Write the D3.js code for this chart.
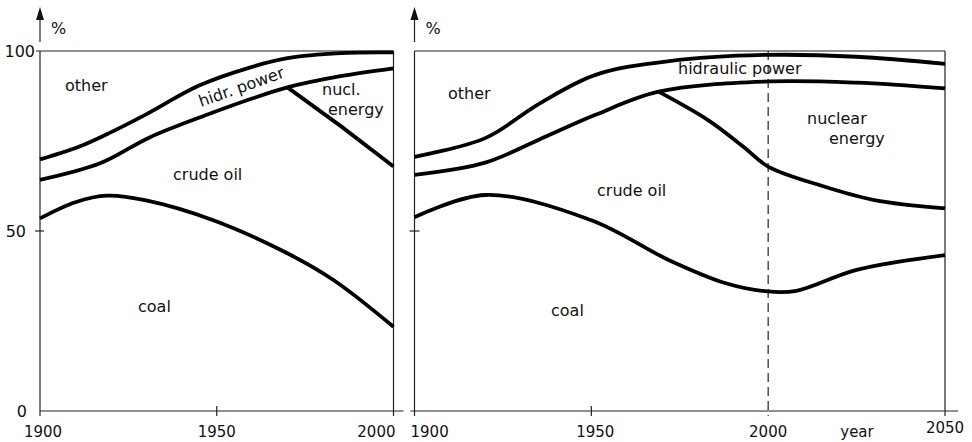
<!DOCTYPE html>
<html>
<head>
<meta charset="utf-8">
<script src="https://cdn.jsdelivr.net/npm/d3@7"></script>
<style>
  body { margin: 0; background: #fff; }
  svg text { font-family: "DejaVu Sans", sans-serif; fill: #111; }
</style>
</head>
<body>
<div id="chart"></div>
<script>
// share of energy sources, % (cumulative boundaries), [year, value]
var leftOther   = [[1900,69.9],[1911,73.4],[1920,77.4],[1930,82.4],[1945,90.4],[1960,95.6],[1970,98.0],[1985,99.4],[2000,99.6]];
var leftHydro   = [[1900,64.2],[1917,68.8],[1931,76.0],[1947,82.2],[1960,86.8],[1970,89.9],[1985,93.0],[2000,95.2]];
var leftNuclear = [[1970,89.9],[1985,79.2],[2000,67.9]];
var leftCoal    = [[1900,53.5],[1910,58.0],[1919,59.8],[1930,58.5],[1949,53.0],[1969,44.3],[1983,36.4],[2000,23.4]];

var rightOther   = [[1900,70.6],[1920,75.8],[1935,85.2],[1951,93.3],[1972,97.2],[1999,98.9],[2025,98.4],[2050,96.4]];
var rightHydro   = [[1900,65.6],[1920,69.0],[1935,75.3],[1951,82.2],[1969,88.7],[1999,91.5],[2025,91.2],[2050,89.6]];
var rightNuclear = [[1969,88.7],[1983,80.8],[1993,73.4],[2000,67.9],[2015,62.6],[2030,58.6],[2050,56.3]];
var rightCoal    = [[1900,53.8],[1920,60.0],[1950,53.0],[1972,41.9],[1988,35.5],[2000,33.2],[2008,33.4],[2025,39.2],[2050,43.3]];

var yTicks = [0, 50, 100];
var leftYearTicks = [1900, 1950, 2000];
var rightYearTicks = [1900, 1950, 2000, 2050];

var svg = d3.select("#chart").append("svg")
    .attr("width", 972)
    .attr("height", 442);

var y = d3.scaleLinear().domain([0, 100]).range([411, 51]);
var xL = d3.scaleLinear().domain([1900, 2000]).range([40, 393.5]);
var xR = d3.scaleLinear().domain([1900, 2050]).range([414.5, 945]);

var axisColor = "#222";

function vline(x, y1, y2, dash){
  svg.append("line")
    .attr("x1", x).attr("x2", x).attr("y1", y1).attr("y2", y2)
    .attr("stroke", axisColor).attr("stroke-width", 1.2)
    .attr("stroke-dasharray", dash || null);
}
function hline(y0, x1, x2){
  svg.append("line")
    .attr("x1", x1).attr("x2", x2).attr("y1", y0).attr("y2", y0)
    .attr("stroke", axisColor).attr("stroke-width", 1.2);
}
function arrow(x){
  vline(x, 42, 14);
  svg.append("path")
    .attr("d", "M" + (x - 4) + ",20 L" + x + ",7 L" + (x + 4) + ",20 Z")
    .attr("fill", "#111");
  svg.append("text").attr("x", x + 11).attr("y", 34)
    .attr("font-size", 16).text("%");
}

// ---- left panel frame
arrow(xL(1900));
vline(xL(1900), y(100), y(0) + 5);
vline(xL(2000), y(100), y(0) + 5);
hline(y(100), xL(1900) - 4, xL(2000));
hline(y(0), xL(1900), xL(2000) + 10);
hline(y(50), xL(1900) - 5, xL(1900) + 4);
vline(xL(1950), y(0) - 5, y(0) + 5);

// ---- right panel frame
arrow(xR(1900));
vline(xR(1900), y(100), y(0) + 5);
vline(xR(2050), y(100), y(0) + 5);
hline(y(100), xR(1900), xR(2050));
hline(y(0), xR(1900) - 4, xR(2050) + 13);
hline(y(50), xR(1900) - 5, xR(1900) + 5);
vline(xR(1950), y(0) - 5, y(0) + 5);
vline(xR(2000), y(100), y(0) + 5, "9,5");

// ---- y tick labels
var yLabelEnd = {0: 27, 50: 26, 100: 35};
svg.selectAll(".ylab").data(yTicks).enter().append("text")
  .attr("class", "ylab")
  .attr("x", function(d){ return yLabelEnd[d]; })
  .attr("y", function(d){ return y(d) + 6; })
  .attr("text-anchor", "end")
  .attr("font-size", 16)
  .text(function(d){ return d; });

// ---- x tick labels
svg.selectAll(".xlabL").data(leftYearTicks).enter().append("text")
  .attr("class", "xlabL")
  .attr("x", function(d, i){ return i === 2 ? xL(d) + 2 : xL(d) + (i === 0 ? 3 : 0); })
  .attr("y", 437)
  .attr("text-anchor", function(d, i){ return i === 2 ? "end" : "middle"; })
  .attr("font-size", 15)
  .text(function(d){ return d; });

svg.selectAll(".xlabR").data(rightYearTicks).enter().append("text")
  .attr("class", "xlabR")
  .attr("x", function(d, i){ return i === 0 ? xR(d) - 4 : xR(d) + (i === 1 ? 4 : 0); })
  .attr("y", function(d, i){ return i === 3 ? 433 : 437; })
  .attr("text-anchor", function(d, i){ return i === 0 ? "start" : "middle"; })
  .attr("font-size", 15)
  .text(function(d){ return d; });

svg.append("text").attr("x", 857).attr("y", 437)
  .attr("text-anchor", "middle").attr("font-size", 15).text("year");

// ---- curves
function drawCurve(data, x, curve){
  var line = d3.line()
    .x(function(d){ return x(d[0]); })
    .y(function(d){ return y(d[1]); })
    .curve(curve || d3.curveCatmullRom.alpha(0.5));
  svg.append("path")
    .datum(data)
    .attr("d", line)
    .attr("fill", "none")
    .attr("stroke", "#000")
    .attr("stroke-width", 3.8)
    .attr("stroke-linejoin", "round")
    .attr("stroke-linecap", "butt");
}

drawCurve(leftOther, xL);
drawCurve(leftHydro, xL);
drawCurve(leftNuclear, xL, d3.curveLinear);
drawCurve(leftCoal, xL);

drawCurve(rightOther, xR);
drawCurve(rightHydro, xR);
drawCurve(rightNuclear, xR);
drawCurve(rightCoal, xR);

// ---- area labels
function label(txt, x0, y0, rot){
  var t = svg.append("text")
    .attr("x", x0).attr("y", y0)
    .attr("font-size", 16)
    .text(txt);
  if(rot){ t.attr("transform", "rotate(" + rot + "," + x0 + "," + y0 + ")"); }
}

label("other", 65, 91);
label("hidr. power", 201, 107, -19.5);
label("nucl.", 322, 95);
label("energy", 328, 115);
label("crude  oil", 173, 180);
label("coal", 138, 312);

label("other", 448, 99);
label("hidraulic power", 678, 74);
label("nuclear", 807, 124);
label("energy", 829, 144);
label("crude  oil", 597, 196);
label("coal", 551, 316);
</script>
</body>
</html>
